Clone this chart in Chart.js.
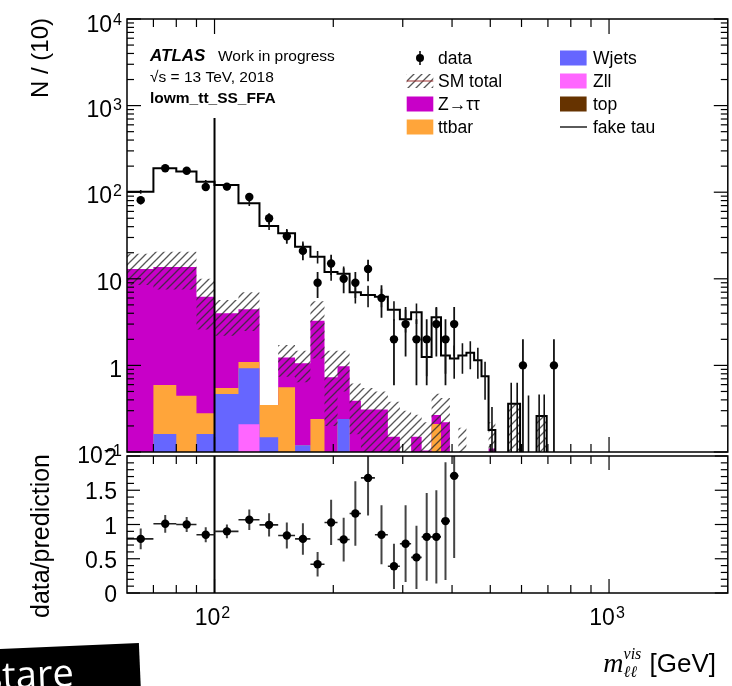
<!DOCTYPE html>
<html><head><meta charset="utf-8">
<script src="https://cdn.jsdelivr.net/npm/chart.js@4.4.1/dist/chart.umd.min.js"></script>
<style>
html,body{margin:0;padding:0;background:#fff;}
#wrap{position:relative;width:732px;height:686px;overflow:hidden;background:#fff;}
canvas{position:absolute;left:0;top:0;}
</style></head><body>
<div id="wrap"><canvas id="main" width="732" height="686"></canvas><canvas id="ratio" width="732" height="686"></canvas></div>
<script>
// ---------------- data ----------------
const binEdges = [60,70,80,90,100,115,130,145,160,175,190,205,220,235,255,275,295,315,335,355,375,395,415,435,455,475,495,515,535,555,575,595,615,635,655,675,695,715,735];
const fakeTau    = [101,189,173,132,121,74.5,40.7,33.5,23.5,18,12,11.4,7,6.5,6.2,4.4,3.4,4.1,1.25,3.6,1.3,1.2,1.3,1.4,1.15,0.75,0.18,0,0,0.36,0.36,0,0,0,0.26,0.26,0,0];
const fakeTauErr = [5,8,8,6,6,5,4,4,3.5,3,2.5,2.5,1.8,1.8,1.5,1.1,1.0,1.1,0.5,1.0,0.5,0.5,0.5,0.5,0.45,0.35,0.15,0,0,0.27,0.27,0,0.45,0.1,0.2,0.2,0,0];
const zttVals    = [13.0,13.1,13.25,5.92,3.45,3.35,0,0.67,0.94,3.04,0.73,0.74,0.39,0.31,0.31,0.15,0,0.15,0.104,0.057,0.22,0,0.1,0,0,0,0.11,0,0,0,0,0,0,0,0,0,0,0];
const ttbarVals  = [0,0.433,0.447,0.119,0.08,0.169,0.202,0.56,0,0.24,0,0,0,0,0,0,0,0,0,0.21,0,0,0,0,0,0,0,0,0,0,0,0,0,0,0,0,0,0];
const wjetsVals  = [0,0.161,0,0.161,0.468,0.716,0.148,0,0.12,0,0,0.24,0,0,0,0,0,0,0,0,0,0,0,0,0,0,0,0,0,0,0,0,0,0,0,0,0,0];
const zllVals    = [0,0,0,0,0,0.209,0,0,0,0,0,0,0,0,0,0,0,0,0,0,0,0,0,0,0,0,0,0,0,0,0,0,0,0,0,0,0,0];
const topVals    = [0,0,0,0,0,0,0,0,0,0,0,0,0,0,0,0,0,0,0,0,0,0,0,0,0,0,0,0,0,0,0,0,0,0,0,0,0,0];
const smLow      = [8.5,7.5,7.5,2.6,2.2,2.5,0,0.74,0.64,1.2,0.2,0.5,0.16,0.07,0.07,0,0,0.03,0,0.06,0.03,0,0,0,0,0,0,0,0,0,0,0,0,0,0,0,0,0];
const smHigh     = [19.5,20.5,20.5,10,5.7,7.0,0,1.72,1.48,5.5,1.48,1.48,0.62,0.55,0.5,0.38,0.3,0.27,0.22,0.47,0.42,0,0.19,0,0,0,0.22,0,0,0.36,0.36,0,0,0,0.26,0.26,0,0];
const dataVals   = [81,189,177,115,116,88,50,31,21,9,15,10,9,13,6,2,3,2,2,3,2,3,null,null,null,null,null,null,null,null,null,1,null,null,null,null,null,1];
const dataErr    = [9,13.7,13.3,10.7,10.8,9.4,7.1,5.6,4.6,3,3.9,3.2,3,3.6,2.45,1.41,1.73,1.41,1.41,1.73,1.41,1.73,null,null,null,null,null,null,null,null,null,1,null,null,null,null,null,1];
const ratioVals  = [0.79,1.01,1.0,0.85,0.9,1.07,0.995,0.84,0.79,0.42,1.03,0.78,1.16,1.68,0.85,0.39,0.72,0.52,0.82,0.82,1.05,1.71];
const ratioErr   = [0.15,0.13,0.11,0.11,0.1,0.15,0.17,0.19,0.23,0.18,0.33,0.32,0.47,0.55,0.43,0.33,0.56,0.46,0.64,0.68,0.86,1.2];
const cutLine    = {x:100, top:720};
// ticks and labels
const xMajorTicks = [100,1000];
const xMinorTicks = [70,80,90,200,300,400,500,600,700,800,900];
const xTickLabels = [{v:100,t:'10^2'},{v:1000,t:'10^3'}];
const yMainTickVals = [10000,1000,100,10,1,0.1];
const yMainTickText = ['10^4','10^3','10^2','10','1','10^−1'];
const yRatioTickVals = [2,1.5,1,0.5,0];
const yRatioTickText = ['2','1.5','1','0.5','0'];
const legendItems = [
  {label:'data', kind:'data', col:0},
  {label:'SM total', kind:'hatch', col:0},
  {label:'Z→ττ', kind:'box', color:'#c800c8', col:0},
  {label:'ttbar', kind:'box', color:'#ffa53a', col:0},
  {label:'Wjets', kind:'box', color:'#6666ff', col:1},
  {label:'Zll', kind:'box', color:'#ff66ff', col:1},
  {label:'top', kind:'box', color:'#663300', col:1},
  {label:'fake tau', kind:'line', col:1}
];
const COLORS = {ztt:'#c800c8', ttbar:'#ffa53a', wjets:'#6666ff', zll:'#ff66ff', top:'#663300'};

// ---------------- helpers ----------------
const TINY = 1e-4;
const nb = binEdges.length - 1;
const centers = binEdges.slice(0,-1).map((e,i)=>(e+binEdges[i+1])/2);
function pos(v){ return v>0 ? v : TINY; }
function stepPts(vals){
  const p=[];
  for(let i=0;i<nb;i++) p.push({x:binEdges[i], y:pos(vals[i])});
  p.push({x:binEdges[nb], y:pos(vals[nb-1])});
  p.push({x:binEdges[nb], y:TINY});
  return p;
}
function cum(...arrs){ return arrs[0].map((_,i)=>arrs.reduce((s,a)=>s+a[i],0)); }
function vLines(xs, lo, hi){
  const p=[];
  for(let i=0;i<xs.length;i++){
    if(lo[i]==null||hi[i]==null) continue;
    p.push({x:xs[i],y:lo[i]},{x:xs[i],y:hi[i]},{x:xs[i],y:null});
  }
  return p;
}
function makeHatch(){
  const c=document.createElement('canvas'); c.width=8; c.height=8;
  const g=c.getContext('2d');
  g.strokeStyle='rgba(45,45,45,0.8)'; g.lineWidth=1.3;
  g.beginPath(); g.moveTo(0,8); g.lineTo(8,0); g.moveTo(-2,2); g.lineTo(2,-2); g.moveTo(6,10); g.lineTo(10,6); g.stroke();
  return g.createPattern(c,'repeat');
}
const SANS='"Liberation Sans", Arial, sans-serif';
function powText(ctx, txt, x, yMid, size, align){
  const parts = txt.split('^'); const base=parts[0]; const exp=parts[1]||'';
  ctx.font = size+'px '+SANS; const wb = ctx.measureText(base).width;
  const es = Math.round(size*0.68);
  ctx.font = es+'px '+SANS; const we = exp ? ctx.measureText(exp).width+1 : 0;
  const tot = wb+we;
  const x0 = align==='right' ? x-tot : (align==='center' ? x-tot/2 : x);
  ctx.textAlign='left'; ctx.textBaseline='alphabetic';
  const bl = yMid + size*0.716/2;
  ctx.font = size+'px '+SANS; ctx.fillText(base, x0, bl);
  if(exp){ ctx.font = es+'px '+SANS; ctx.fillText(exp, x0+wb+1, bl - size*0.716 + es*0.716 - 2); }
}
function line(ctx,x1,y1,x2,y2){ ctx.beginPath(); ctx.moveTo(x1,y1); ctx.lineTo(x2,y2); ctx.stroke(); }
function drawXTicks(ctx,a,x,lmaj,lmin){
  for(const v of xMajorTicks){ const p=x.getPixelForValue(v); line(ctx,p,a.bottom,p,a.bottom-lmaj); line(ctx,p,a.top,p,a.top+lmaj); }
  for(const v of xMinorTicks){ const p=x.getPixelForValue(v); line(ctx,p,a.bottom,p,a.bottom-lmin); line(ctx,p,a.top,p,a.top+lmin); }
}
function drawYTicks(ctx,a,y,maj,min,lmaj,lmin){
  for(const v of maj){ const p=y.getPixelForValue(v); line(ctx,a.left,p,a.left+lmaj,p); line(ctx,a.right,p,a.right-lmaj,p); }
  for(const v of min){ const p=y.getPixelForValue(v); line(ctx,a.left,p,a.left+lmin,p); line(ctx,a.right,p,a.right-lmin,p); }
}
const hatch = makeHatch();

// ---------------- main panel ----------------
const cTop = cum(topVals);
const cZll = cum(topVals,zllVals);
const cW   = cum(topVals,zllVals,wjetsVals);
const cTT  = cum(topVals,zllVals,wjetsVals,ttbarVals);
const cZtt = cum(topVals,zllVals,wjetsVals,ttbarVals,zttVals);
function layer(vals,color,order){
  return {data:stepPts(vals), stepped:'before', fill:'start', backgroundColor:color, borderColor:'rgba(0,0,0,0)', borderWidth:0, pointRadius:0, order};
}
const mainMajorY = [0.1,1,10,100,1000,10000];
const mainMinorY = [];
for(let d=-1; d<4; d++) for(let k=2;k<10;k++) mainMinorY.push(k*Math.pow(10,d));

const mainDecor = {
  id:'mainDecor',
  afterDraw(chart){
    const {ctx, chartArea:a, scales:{x,y}} = chart;
    ctx.save();
    ctx.strokeStyle='#000'; ctx.lineWidth=1.2;
    drawXTicks(ctx,a,x,15,8);
    drawYTicks(ctx,a,y,mainMajorY,mainMinorY,14,7);
    ctx.lineWidth=1.5; ctx.strokeRect(a.left,a.top,a.right-a.left,a.bottom-a.top);
    ctx.fillStyle='#000';
    yMainTickVals.forEach((v,i)=>{
      let yc = y.getPixelForValue(v)+3; if(yc<24) yc=24;
      powText(ctx, yMainTickText[i], 122, yc, 23, 'right');
    });
    // labels
    ctx.textAlign='left'; ctx.textBaseline='alphabetic';
    ctx.font='italic bold 17px '+SANS; ctx.fillText('ATLAS',150,61);
    ctx.font='15.5px '+SANS; ctx.fillText('Work in progress',218,61);
    ctx.fillText('√s = 13 TeV, 2018',150,82);
    ctx.font='bold 15.5px '+SANS; ctx.fillText('lowm_tt_SS_FFA',150,103);
    // legend
    const colBox=[406.7,560], colText=[438,593], rowY=[58,81,104,127];
    const rowCount=[0,0];
    legendItems.forEach(it=>{
      const r=rowCount[it.col]++; const yc=rowY[r]; const bx=colBox[it.col];
      if(it.kind==='box'){ ctx.fillStyle=it.color; ctx.fillRect(bx,yc-7.5,26.6,15); }
      else if(it.kind==='hatch'){ ctx.fillStyle=hatch; ctx.fillRect(bx,yc-7,26.6,14); ctx.strokeStyle='#a03030'; ctx.lineWidth=1; line(ctx,bx,yc,bx+26.6,yc); }
      else if(it.kind==='line'){ ctx.strokeStyle='#000'; ctx.lineWidth=1.3; line(ctx,bx,yc,bx+27,yc); }
      else if(it.kind==='data'){ ctx.strokeStyle='#000'; ctx.lineWidth=1.5; line(ctx,bx+13.3,yc-7,bx+13.3,yc+7); ctx.fillStyle='#000'; ctx.beginPath(); ctx.arc(bx+13.3,yc,4,0,Math.PI*2); ctx.fill(); }
      ctx.fillStyle='#000'; ctx.font='17.5px '+SANS; ctx.textBaseline='middle'; ctx.fillText(it.label,colText[it.col],yc+1);
    });
    ctx.restore();
  }
};

const dataPts = centers.map((c,i)=>({x:c, y:dataVals[i]}));
const dataLo = dataVals.map((v,i)=> v==null?null:pos(v-dataErr[i]));
const dataHi = dataVals.map((v,i)=> v==null?null:v+dataErr[i]);
const ftLo = fakeTau.map((v,i)=> fakeTauErr[i]>0 ? pos(v-fakeTauErr[i]) : null);
const ftHi = fakeTau.map((v,i)=> fakeTauErr[i]>0 ? v+fakeTauErr[i] : null);

new Chart(document.getElementById('main'), {
  type:'line',
  data:{datasets:[
    layer(cZtt, COLORS.ztt, 100),
    layer(cTT, COLORS.ttbar, 99),
    layer(cW, COLORS.wjets, 98),
    layer(cZll, COLORS.zll, 97),
    layer(cTop, COLORS.top, 96),
    {data:stepPts(smLow.map((v,i)=>smHigh[i]>0?v:0)), stepped:'before', fill:false, borderColor:'rgba(0,0,0,0)', borderWidth:0, pointRadius:0, order:91},
    {data:stepPts(smHigh), stepped:'before', fill:{target:5, above:hatch, below:hatch}, backgroundColor:hatch, borderColor:'rgba(0,0,0,0)', borderWidth:0, pointRadius:0, order:90},
    {data:stepPts(fakeTau), stepped:'before', fill:false, borderColor:'#000', borderWidth:2, pointRadius:0, order:80},
    {data:vLines(centers, ftLo, ftHi), fill:false, borderColor:'#111', borderWidth:1.6, pointRadius:0, spanGaps:false, order:79},
    {data:[{x:cutLine.x,y:cutLine.top},{x:cutLine.x,y:TINY}], fill:false, borderColor:'#000', borderWidth:2, pointRadius:0, order:70},
    {data:vLines(centers, dataLo, dataHi), fill:false, borderColor:'#111', borderWidth:1.8, pointRadius:0, spanGaps:false, order:60},
    {data:dataPts, showLine:false, pointRadius:4.2, pointBackgroundColor:'#000', pointBorderWidth:0, order:50}
  ]},
  options:{
    responsive:false, animation:false, events:[],
    layout:{padding:{left:127,right:4,top:19,bottom:234}},
    plugins:{legend:{display:false}, tooltip:{enabled:false}, title:{display:false}},
    scales:{
      x:{type:'logarithmic', min:60, max:2000, display:false},
      y:{type:'logarithmic', min:0.1, max:10000, display:false}
    }
  },
  plugins:[mainDecor]
});

// ---------------- ratio panel ----------------
const rCenters = centers.slice(0, ratioVals.length);
const ratioPts = rCenters.map((c,i)=>({x:c,y:ratioVals[i]}));
const rLo = ratioVals.map((v,i)=>v-ratioErr[i]);
const rHi = ratioVals.map((v,i)=>v+ratioErr[i]);
const hErr = [];
ratioVals.forEach((v,i)=>{ hErr.push({x:binEdges[i],y:v},{x:binEdges[i+1],y:v},{x:binEdges[i+1],y:null}); });
const ratioMajorY=[0,0.5,1,1.5,2];
const ratioMinorY=[];
for(let k=1;k<20;k++){ if(k%5) ratioMinorY.push(k/10); }

const ratioDecor = {
  id:'ratioDecor',
  afterDraw(chart){
    const {ctx, chartArea:a, scales:{x,y}} = chart;
    ctx.save();
    ctx.strokeStyle='#000'; ctx.lineWidth=1.2;
    drawXTicks(ctx,a,x,14,8);
    drawYTicks(ctx,a,y,ratioMajorY,ratioMinorY,13,7);
    ctx.lineWidth=1.5; ctx.strokeRect(a.left,a.top,a.right-a.left,a.bottom-a.top);
    ctx.fillStyle='#000';
    yRatioTickVals.forEach((v,i)=>{ powText(ctx, yRatioTickText[i], 117, y.getPixelForValue(v)+1, 23, 'right'); });
    xTickLabels.forEach(l=>{ powText(ctx, l.t, x.getPixelForValue(l.v)-2, 617, 23, 'center'); });
    // axis titles
    ctx.save(); ctx.translate(41,58); ctx.rotate(-Math.PI/2); ctx.font='24px '+SANS; ctx.textAlign='center'; ctx.textBaseline='middle'; ctx.fillText('N / (10)',0,0); ctx.restore();
    ctx.save(); ctx.translate(42,536); ctx.rotate(-Math.PI/2); ctx.font='25px '+SANS; ctx.textAlign='center'; ctx.textBaseline='middle'; ctx.fillText('data/prediction',0,0); ctx.restore();
    // x title
    ctx.textAlign='left'; ctx.textBaseline='alphabetic';
    const bl=672;
    ctx.font='26px '+SANS; const wG=ctx.measureText(' [GeV]').width;
    const xEnd=716; const xG=xEnd-wG;
    ctx.fillText(' [GeV]', xG, bl);
    ctx.font='italic 16px "Liberation Serif"'; const wS=Math.max(ctx.measureText('vis').width, ctx.measureText('ℓℓ').width);
    const xS=xG-wS-1;
    ctx.fillText('vis', xS, bl-13);
    ctx.fillText('ℓℓ', xS, bl+5);
    ctx.font='italic 28px "Liberation Serif"'; const wm=ctx.measureText('m').width;
    ctx.fillText('m', xS-wm, bl);
    // "stare" box
    ctx.save(); ctx.translate(0,649); ctx.rotate(-0.043);
    ctx.fillStyle='#000'; ctx.fillRect(-20,0,159,60);
    ctx.fillStyle='#fff'; ctx.font='38px "Open Sans", sans-serif'; ctx.textBaseline='alphabetic'; ctx.fillText('stare',-17,40);
    ctx.restore();
    ctx.restore();
  }
};

new Chart(document.getElementById('ratio'), {
  type:'line',
  data:{datasets:[
    {data:[{x:cutLine.x,y:2},{x:cutLine.x,y:0}], fill:false, borderColor:'#000', borderWidth:2, pointRadius:0, order:70},
    {data:vLines(rCenters, rLo, rHi), fill:false, borderColor:'#444', borderWidth:2, pointRadius:0, spanGaps:false, order:60},
    {data:hErr, fill:false, borderColor:'#222', borderWidth:1.6, pointRadius:0, spanGaps:false, order:59},
    {data:ratioPts, showLine:false, pointRadius:4.2, pointBackgroundColor:'#000', pointBorderWidth:0, order:50}
  ]},
  options:{
    responsive:false, animation:false, events:[],
    layout:{padding:{left:127,right:4,top:456,bottom:93}},
    plugins:{legend:{display:false}, tooltip:{enabled:false}, title:{display:false}},
    scales:{
      x:{type:'logarithmic', min:60, max:2000, display:false},
      y:{type:'linear', min:0, max:2, display:false}
    }
  },
  plugins:[ratioDecor]
});
</script>
</body></html>
